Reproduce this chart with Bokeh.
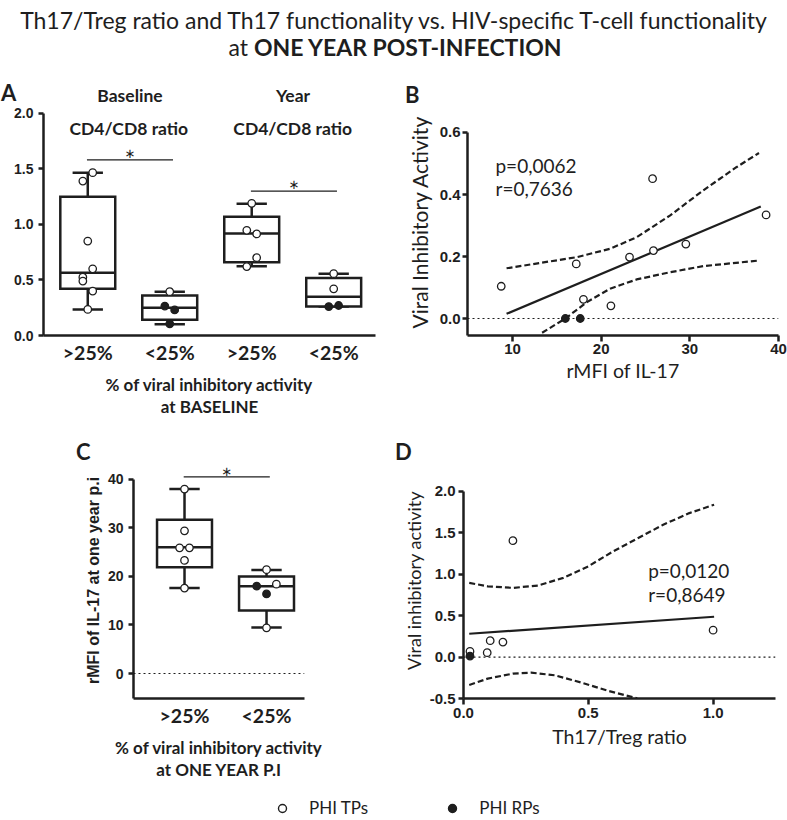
from bokeh.plotting import figure
from bokeh.models import (Range1d, FixedTicker, Label, Legend, LegendItem, Div, Span,
                          PrintfTickFormatter, Title)
from bokeh.layouts import column, row
from bokeh.embed import file_html
from bokeh.resources import INLINE

# ---------------- data ----------------
main_title = "Th17/Treg ratio and Th17 functionality vs. HIV-specific T-cell functionality"
main_subtitle_plain = "at "
main_subtitle_bold = "ONE YEAR POST-INFECTION"
panel_letters = ["A", "B", "C", "D"]
sig_mark = "\u2217"

# Panel A: CD4/CD8 ratio by % viral inhibitory activity at baseline
a_tick_labels = [">25%", "<25%", ">25%", "<25%"]
a_headers = [["Baseline", "CD4/CD8 ratio"], ["Year", "CD4/CD8 ratio"]]
a_low = [0.235, 0.102, 0.623, 0.262]
a_q1 = [0.421, 0.141, 0.659, 0.262]
a_median = [0.565, 0.250, 0.917, 0.349]
a_q3 = [1.248, 0.361, 1.068, 0.517]
a_high = [1.465, 0.394, 1.185, 0.556]
a_tp_values = [[1.465, 1.39, 0.85, 0.60, 0.525, 0.49, 0.40, 0.235],
               [0.394],
               [1.19, 0.947, 0.914, 0.70, 0.62],
               [0.556, 0.42]]
a_tp_jitter = [[1, -1, 0, 1, -1, -1, 1, 0], [0], [0, -1, 1, 1, -1], [0, 0]]
a_rp_values = [[], [0.265, 0.23, 0.105], [], [0.26, 0.27]]
a_rp_jitter = [[], [-1, 1, 0], [], [-1, 1]]
a_sig_pairs = [(0, 1), (2, 3)]
a_sig_levels = [1.58, 1.30]

# Panel B: viral inhibitory activity vs rMFI of IL-17
b_tp_x = [8.73, 17.19, 18.0, 21.1, 23.2, 25.8, 25.9, 29.55, 38.6]
b_tp_y = [0.104, 0.176, 0.062, 0.041, 0.198, 0.451, 0.219, 0.240, 0.334]
b_rp_x = [15.96, 17.64]
b_rp_y = [0.0, 0.0]
b_fit_x = [9.33, 38.0]
b_fit_y = [0.015, 0.361]
b_upper_x = [9.33, 17.27, 21.0, 24.0, 27.75, 31.5, 35.25, 37.8]
b_upper_y = [0.162, 0.198, 0.225, 0.262, 0.332, 0.413, 0.488, 0.534]
b_lower_x = [13.34, 15.96, 18.4, 21.0, 24.0, 27.75, 31.5, 37.8]
b_lower_y = [-0.046, 0.0, 0.053, 0.096, 0.126, 0.149, 0.169, 0.187]
b_stats = ["p=0,0062", "r=0,7636"]

# Panel C: rMFI of IL-17 at one year p.i by % viral inhibitory activity
c_tick_labels = [">25%", "<25%"]
c_low = [17.6, 9.5]
c_q1 = [21.9, 13.0]
c_median = [26.0, 18.0]
c_q3 = [31.7, 20.0]
c_high = [38.0, 21.3]
c_tp_values = [[38.0, 29.4, 25.9, 25.9, 23.3, 17.6], [21.4, 18.4, 9.4]]
c_tp_jitter = [[0, 0, -1, 1, 0, 0], [0, 2, 0]]
c_rp_values = [[], [18.0, 16.4]]
c_rp_jitter = [[], [-2, 0]]
c_sig_pairs = [(0, 1)]
c_sig_levels = [40.5]

# Panel D: viral inhibitory activity vs Th17/Treg ratio
d_tp_x = [0.026, 0.095, 0.107, 0.158, 0.198, 1.0]
d_tp_y = [0.069, 0.053, 0.198, 0.181, 1.406, 0.325]
d_rp_x = [0.026]
d_rp_y = [0.012]
d_fit_x = [0.023, 1.004]
d_fit_y = [0.282, 0.487]
d_upper_x = [0.023, 0.097, 0.198, 0.299, 0.40, 0.50, 0.60, 0.70, 0.80, 0.905, 1.004]
d_upper_y = [0.896, 0.855, 0.836, 0.864, 0.957, 1.096, 1.277, 1.438, 1.598, 1.739, 1.84]
d_lower_x = [0.023, 0.097, 0.198, 0.271, 0.366, 0.474, 0.582, 0.696]
d_lower_y = [-0.337, -0.26, -0.20, -0.188, -0.22, -0.309, -0.41, -0.498]
d_stats = ["p=0,0120", "r=0,8649"]

legend_labels = ["PHI TPs", "PHI RPs"]

# ---------------- style ----------------
INK = "#1e1e1e"
FONT = "Lato"
TICKFONT = "Liberation Sans"
LW = 2.5
BOX_HALF = 0.335
CAP_HALF = 0.185
JIT = 0.06


def make_fig(width, height, xr, yr, left, right, top, bottom):
    p = figure(width=width, height=height, x_range=Range1d(*xr), y_range=Range1d(*yr),
               output_backend="svg", toolbar_location=None, title=None,
               min_border_left=left, min_border_right=right,
               min_border_top=top, min_border_bottom=bottom)
    p.xgrid.visible = False
    p.ygrid.visible = False
    p.outline_line_color = None
    p.background_fill_color = "white"
    p.border_fill_color = "white"
    for ax in p.axis:
        ax.axis_line_width = LW
        ax.axis_line_color = INK
        ax.major_tick_line_width = LW
        ax.major_tick_line_color = INK
        ax.major_tick_in = 0
        ax.major_tick_out = 5
        ax.minor_tick_line_color = None
        ax.major_label_text_font = TICKFONT
        ax.major_label_text_font_style = "bold"
        ax.major_label_text_font_size = "14px"
        ax.major_label_text_color = INK
        ax.axis_label_text_color = INK
        ax.axis_label_text_font = FONT
        ax.axis_label_text_font_style = "normal"
    return p


def side_title(p, text, place, offset, standoff, size, font=FONT, style="normal"):
    p.add_layout(Title(text=text, align="center", offset=offset, standoff=standoff,
                       text_font=font, text_font_style=style, text_font_size=size,
                       text_color=INK), place)


def box_groups(p, low, q1, med, q3, high, tp_vals, tp_jit, rp_vals, rp_jit):
    xs = list(range(len(low)))
    kw = dict(line_color=INK, line_width=LW)
    p.segment(x0=xs, y0=q3, x1=xs, y1=high, **kw)
    p.segment(x0=xs, y0=q1, x1=xs, y1=low, **kw)
    p.segment(x0=[x - CAP_HALF for x in xs], y0=high, x1=[x + CAP_HALF for x in xs], y1=high, **kw)
    p.segment(x0=[x - CAP_HALF for x in xs], y0=low, x1=[x + CAP_HALF for x in xs], y1=low, **kw)
    p.quad(left=[x - BOX_HALF for x in xs], right=[x + BOX_HALF for x in xs],
           bottom=q1, top=q3, fill_color="white", line_join="miter", **kw)
    p.segment(x0=[x - BOX_HALF for x in xs], y0=med, x1=[x + BOX_HALF for x in xs], y1=med, **kw)
    tx, ty, rx, ry = [], [], [], []
    for i in xs:
        for v, j in zip(tp_vals[i], tp_jit[i]):
            tx.append(i + j * JIT); ty.append(v)
        for v, j in zip(rp_vals[i], rp_jit[i]):
            rx.append(i + j * JIT); ry.append(v)
    p.scatter(tx, ty, marker="circle", size=7.5, fill_color="white", line_color=INK, line_width=1.3)
    p.scatter(rx, ry, marker="circle", size=7.5, fill_color=INK, line_color=INK, line_width=1.3)


def sig_bars(p, pairs, levels, star_gap):
    x0 = [a - 0.01 for a, b in pairs]
    x1 = [b + 0.04 for a, b in pairs]
    p.segment(x0=x0, y0=levels, x1=x1, y1=levels, line_color=INK, line_width=1.3)
    for a, b, l in zip(x0, x1, levels):
        p.add_layout(Label(x=(a + b) / 2, y=l + star_gap, text=sig_mark, text_font="DejaVu Sans",
                           text_font_size="13px", text_color=INK, text_align="center",
                           text_baseline="middle"))


def cat_xaxis(p, labels, axis_label):
    ax = p.xaxis[0]
    ax.ticker = FixedTicker(ticks=list(range(len(labels))))
    ax.major_label_overrides = {i: t for i, t in enumerate(labels)}
    ax.major_tick_out = 0
    ax.major_label_text_font = FONT
    ax.major_label_text_font_size = "19.5px"
    ax.major_label_standoff = 5
    ax.axis_label = axis_label
    ax.axis_label_text_font_style = "bold"
    ax.axis_label_text_font_size = "17px"
    ax.axis_label_text_line_height = 1.05
    ax.axis_label_standoff = 7


def regression(p, fx, fy, ux, uy, lx, ly, tpx, tpy, rpx, rpy):
    p.add_layout(Span(location=0, dimension="width", line_color=INK, line_width=1.2,
                      line_dash="2 3"))
    p.line(fx, fy, line_color=INK, line_width=2.2)
    p.line(ux, uy, line_color=INK, line_width=2.2, line_dash="6 3")
    p.line(lx, ly, line_color=INK, line_width=2.2, line_dash="6 3")
    p.scatter(tpx, tpy, marker="circle", size=7.5, fill_color="white", line_color=INK, line_width=1.3)
    p.scatter(rpx, rpy, marker="circle", size=7.5, fill_color=INK, line_color=INK, line_width=1.3)


def abs_text(text, cy, size, bold=False, cx=None, left=None, width=300, lh=None):
    if lh is None:
        lh = round(size * 1.2)
    top = cy - lh / 2
    if cx is not None:
        left = cx - width / 2
        align = "center"
    else:
        align = "left"
    weight = 700 if bold else 400
    return (f'<div style="position:absolute;left:{left}px;top:{top}px;width:{width}px;'
            f'height:{lh}px;line-height:{lh}px;font-size:{size}px;font-weight:{weight};'
            f'text-align:{align};white-space:nowrap;">{text}</div>')


def text_strip(width, height, pieces):
    html = (f'<div style="position:relative;width:{width}px;height:{height}px;'
            f'font-family:Lato;color:{INK};">' + "".join(pieces) + '</div>')
    return Div(text=html, width=width, height=height, margin=(0, 0, 0, 0))


# ---------------- Top strip (0..104): title, letters A/B, column headers ----------------
top = text_strip(787, 104, [
    abs_text(main_title, 20.5, 23, cx=393.5, width=787, lh=27),
    abs_text(f'{main_subtitle_plain}<b>{main_subtitle_bold}</b>', 47.5, 23, cx=395,
             width=787, lh=27),
    abs_text(panel_letters[0], 92.5, 22, bold=True, left=1, width=30, lh=18),
    abs_text(a_headers[0][0], 95.7, 17.5, bold=True, cx=130, width=160, lh=17),
    abs_text(a_headers[1][0], 95.7, 17.5, bold=True, cx=293, width=160, lh=17),
    abs_text(panel_letters[1], 95, 22, bold=True, left=405, width=30, lh=18),
])

# ---------------- Panel A (canvas 104..420, frame 108..335) ----------------
pA = make_fig(390, 316, (-0.54, 3.51), (0, 2.043), 43, 15, 4, 85)
pA.yaxis[0].ticker = FixedTicker(ticks=[0, 0.5, 1.0, 1.5, 2.0])
pA.yaxis[0].formatter = PrintfTickFormatter(format="%.1f")
pA.yaxis[0].bounds = (0, 2.0)
cat_xaxis(pA, a_tick_labels, "% of viral inhibitory activity\nat BASELINE")
box_groups(pA, a_low, a_q1, a_median, a_q3, a_high, a_tp_values, a_tp_jitter, a_rp_values, a_rp_jitter)
sig_bars(pA, a_sig_pairs, a_sig_levels, 0.058)
for k, (l1, l2) in enumerate(a_headers):
    pA.add_layout(Label(x=2 * k + 0.5, y=1.863, text=l2, text_font=FONT, text_font_style="bold",
                        text_font_size="17.5px", text_color=INK, text_align="center",
                        text_baseline="alphabetic"))

# ---------------- Panel B (canvas 104..420, frame 108..335) ----------------
pB = make_fig(397, 316, (4.925, 40), (-0.0548, 0.6774), 77, 9, 4, 85)
pB.yaxis[0].ticker = FixedTicker(ticks=[0, 0.2, 0.4, 0.6])
pB.yaxis[0].formatter = PrintfTickFormatter(format="%.1f")
pB.yaxis[0].bounds = (-1, 0.6)
pB.xaxis[0].ticker = FixedTicker(ticks=[10, 20, 30, 40])
for ax in pB.axis:
    ax.major_label_text_font_size = "15px"
    ax.major_label_standoff = 2
pB.xaxis[0].major_tick_out = 6
pB.xaxis[0].axis_label = "rMFI of IL-17"
pB.xaxis[0].axis_label_text_font_size = "19.5px"
pB.xaxis[0].axis_label_standoff = 2
side_title(pB, "Viral Inhibitory Activity", "left", 2.5, 9, "21px")
regression(pB, b_fit_x, b_fit_y, b_upper_x, b_upper_y, b_lower_x, b_lower_y,
           b_tp_x, b_tp_y, b_rp_x, b_rp_y)
for txt, yv in zip(b_stats, (0.4935, 0.419)):
    pB.add_layout(Label(x=8.08, y=yv, text=txt, text_font=FONT, text_font_size="19px",
                        text_color=INK, text_align="left", text_baseline="alphabetic"))

# ---------------- Middle strip (420..462): letters C/D ----------------
mid = text_strip(787, 42, [
    abs_text(panel_letters[2], 32, 22, bold=True, left=76, width=30, lh=18),
    abs_text(panel_letters[3], 32, 22, bold=True, left=395, width=30, lh=18),
])

# ---------------- Panel C (canvas 462..795, frame 462..698) ----------------
pC = make_fig(390, 333, (-0.622, 1.463), (-5.15, 43.47), 133, 86, 0, 97)
pC.yaxis[0].ticker = FixedTicker(ticks=[0, 10, 20, 30, 40])
pC.yaxis[0].bounds = (-10, 40)
side_title(pC, "rMFI of IL-17 at one year p.i", "left", 11, 5, "16px", font=TICKFONT, style="bold")
cat_xaxis(pC, c_tick_labels, "% of viral inhibitory activity\nat ONE YEAR P.I")
pC.add_layout(Span(location=0, dimension="width", line_color=INK, line_width=1.2, line_dash="2 3"))
box_groups(pC, c_low, c_q1, c_median, c_q3, c_high, c_tp_values, c_tp_jitter, c_rp_values, c_rp_jitter)
sig_bars(pC, c_sig_pairs, c_sig_levels, 1.1)

# ---------------- Panel D (canvas 462..795, frame 462..698) ----------------
pD = make_fig(397, 333, (0, 1.25), (-0.5, 2.35), 73, 12, 0, 97)
pD.yaxis[0].ticker = FixedTicker(ticks=[-0.5, 0, 0.5, 1.0, 1.5, 2.0])
pD.yaxis[0].formatter = PrintfTickFormatter(format="%.1f")
pD.yaxis[0].bounds = (-0.5, 2.0)
pD.xaxis[0].ticker = FixedTicker(ticks=[0, 0.5, 1.0])
pD.xaxis[0].formatter = PrintfTickFormatter(format="%.1f")
for ax in pD.axis:
    ax.major_label_text_font_size = "15px"
    ax.major_label_standoff = 3
pD.xaxis[0].major_tick_out = 6
side_title(pD, "Viral inhibitory activity", "left", -13, 3, "18px")
side_title(pD, "Th17/Treg ratio", "below", -18, 4, "19.5px")
regression(pD, d_fit_x, d_fit_y, d_upper_x, d_upper_y, d_lower_x, d_lower_y,
           d_tp_x, d_tp_y, d_rp_x, d_rp_y)
for txt, yv in zip(d_stats, (1.05, 0.76)):
    pD.add_layout(Label(x=0.74, y=yv, text=txt, text_font=FONT, text_font_size="19px",
                        text_color=INK, text_align="left", text_baseline="alphabetic"))

# ---------------- Legend strip (795..820) ----------------
pL = figure(width=787, height=25, x_range=Range1d(0, 1), y_range=Range1d(0, 1),
            output_backend="svg", toolbar_location=None, min_border=0, title=None,
            x_axis_location=None, y_axis_location=None)
pL.xgrid.visible = False
pL.ygrid.visible = False
pL.outline_line_color = None
# legend-only renderers: their single sample point lies outside the strip's visible range
r_tp = pL.scatter(x=[5], y=[5], marker="circle", size=11, fill_color="white", line_color=INK, line_width=1.4)
r_rp = pL.scatter(x=[5], y=[5], marker="circle", size=11, fill_color=INK, line_color=INK, line_width=1.4)
leg = Legend(items=[LegendItem(label=legend_labels[0], renderers=[r_tp]),
                    LegendItem(label=legend_labels[1], renderers=[r_rp])],
             orientation="horizontal", location=(272, 2), padding=0, margin=0,
             spacing=74, label_standoff=17, glyph_width=20, glyph_height=20,
             label_text_font=FONT, label_text_font_size="17px", label_text_color=INK,
             border_line_color=None, background_fill_alpha=0)
pL.add_layout(leg)

layout = column(top, row(pA, pB, spacing=0), mid, row(pC, pD, spacing=0), pL, spacing=0)
open("out.html", "w").write(file_html(layout, INLINE))
